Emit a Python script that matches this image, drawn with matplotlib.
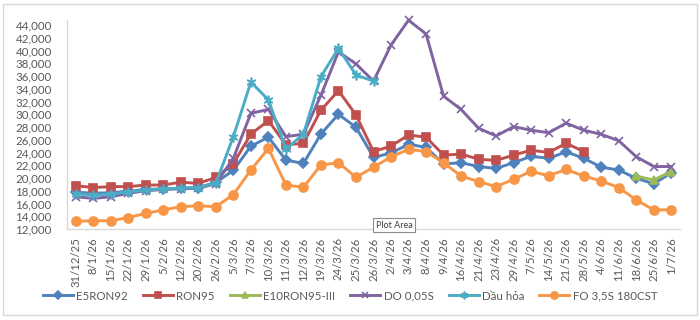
import numpy as np
import matplotlib
matplotlib.use("Agg")
import matplotlib.pyplot as plt
from matplotlib.patches import Rectangle

nan = np.nan

categories = ["31/12/25", "8/1/26", "15/1/26", "22/1/26", "29/1/26", "5/2/26", "12/2/26",
              "20/2/26", "26/2/26", "5/3/26", "7/3/26", "10/3/26", "11/3/26", "12/3/26",
              "19/3/26", "24/3/26", "25/3/26", "26/3/26", "2/4/26", "3/4/26", "8/4/26",
              "9/4/26", "16/4/26", "21/4/26", "23/4/26", "29/4/26", "7/5/26", "14/5/26",
              "21/5/26", "28/5/26", "4/6/26", "11/6/26", "18/6/26", "25/6/26", "1/7/26"]

e5ron92 = [17800, 17600, 17700, 17900, 18200, 18300, 18400, 18500, 19300, 21200, 25000,
           26400, 22800, 22300, 26900, 30000, 27950, 23250, 23900, 25300, 24800, 22200,
           22400, 21800, 21500, 22400, 23400, 23100, 24100, 23100, 21700, 21250, 19950,
           19100, 20800]

ron95 = [18800, 18500, 18650, 18650, 18900, 18900, 19350, 19150, 20100, 22250, 26900,
         29000, 25200, 25450, 30650, 33700, 29900, 24150, 25000, 26750, 26400, 23600,
         23750, 22950, 22750, 23600, 24350, 24000, 25450, 24150, nan, nan, nan, nan, nan]

e10ron95 = [nan] * 32 + [20300, 19700, 21000]

do005 = [17050, 16800, 17050, 17600, 18000, 18200, 18300, 18400, 19100, 23100, 30150,
         30750, 26500, 26850, 33000, 39800, 37900, 35200, 40850, 44750, 42600, 32850,
         30750, 27800, 26600, 28050, 27500, 27100, 28600, 27500, 26850, 25850, 23350,
         21800, 21800]

dauhoa = [17550, 17300, 17500, 17800, 18100, 18300, 18400, 18500, 19200, 26500, 35050,
          32250, 24500, 26900, 35900, 40350, 36150, 35200] + [nan] * 17

fo = [13200, 13300, 13300, 13800, 14450, 15000, 15500, 15650, 15500, 17400, 21250,
      24650, 18900, 18550, 22050, 22400, 20100, 21700, 23300, 24500, 24150, 22400,
      20300, 19450, 18650, 19800, 21050, 20350, 21350, 20300, 19550, 18500, 16550,
      15000, 15000]

yticks = list(range(12000, 44001, 2000))

series = [
    ("E5RON92", e5ron92, "#4F81BD", "D", 5.0),
    ("RON95", ron95, "#C0504D", "s", 6.0),
    ("E10RON95-III", e10ron95, "#9BBB59", "^", 6.0),
    ("DO 0,05S", do005, "#8064A2", "x", 6.0),
    ("Dầu hỏa", dauhoa, "#4BACC6", (6, 2, 0), 7.0),
    ("FO 3,5S 180CST", fo, "#F79646", "o", 6.5),
]

plt.rcParams['font.family'] = ['Lato', 'DejaVu Sans']
text_color = "#595959"

fig = plt.figure(figsize=(7, 3.2), dpi=100)
# y=44000 sits at 25 px, 12000 at 229 px; axis extends up to ~44800 (20 px)
ax = fig.add_axes([67 / 700, 1 - 229 / 320, (680 - 67) / 700, (229 - 20) / 320])

x = np.arange(len(categories))
for name, vals, color, marker, ms in series:
    ax.plot(x, np.array(vals, dtype=float), color=color, lw=2.1, marker=marker,
            markersize=ms, markerfacecolor=color, markeredgecolor=color,
            markeredgewidth=1.2, label=name, clip_on=False)

ax.set_xlim(-0.5, len(categories) - 0.5)
ax.set_ylim(12000, 12000 + 32000 * (229 - 20) / (229 - 25))
ax.set_yticks(yticks)
ax.set_yticklabels([f"{v:,}" for v in yticks])
ax.set_xticks(x)
ax.set_xticklabels(categories, rotation=90, ha="center", va="top")

for side in ["top", "right"]:
    ax.spines[side].set_visible(False)
for side in ["left", "bottom"]:
    ax.spines[side].set_color("#d9d9d9")
    ax.spines[side].set_linewidth(1.0)

ax.tick_params(axis="y", length=0, pad=11, labelsize=8.3, labelcolor=text_color)
ax.tick_params(axis="x", length=0, pad=6, labelsize=8.2, labelcolor=text_color)

leg = fig.legend(loc="center", bbox_to_anchor=(0.5, 1 - 296 / 320), ncol=6,
                 frameon=False, fontsize=8.3, handlelength=2.6, handletextpad=0.3,
                 columnspacing=1.3, markerscale=0.8)
for t in leg.get_texts():
    t.set_color(text_color)

# chart border
fig.patches.append(Rectangle((3 / 700, 5 / 320), 694 / 700, 311 / 320,
                             transform=fig.transFigure, fill=False,
                             edgecolor="#d9d9d9", lw=1.0))

# "Plot Area" tooltip
fig.text(394 / 700, 1 - 225 / 320, "Plot Area", ha="center", va="center",
         fontsize=6.5, color="#404040",
         bbox=dict(boxstyle="square,pad=0.25", facecolor="white",
                   edgecolor="#8c8c8c", lw=0.8))

fig.savefig("out.png", dpi=100)
